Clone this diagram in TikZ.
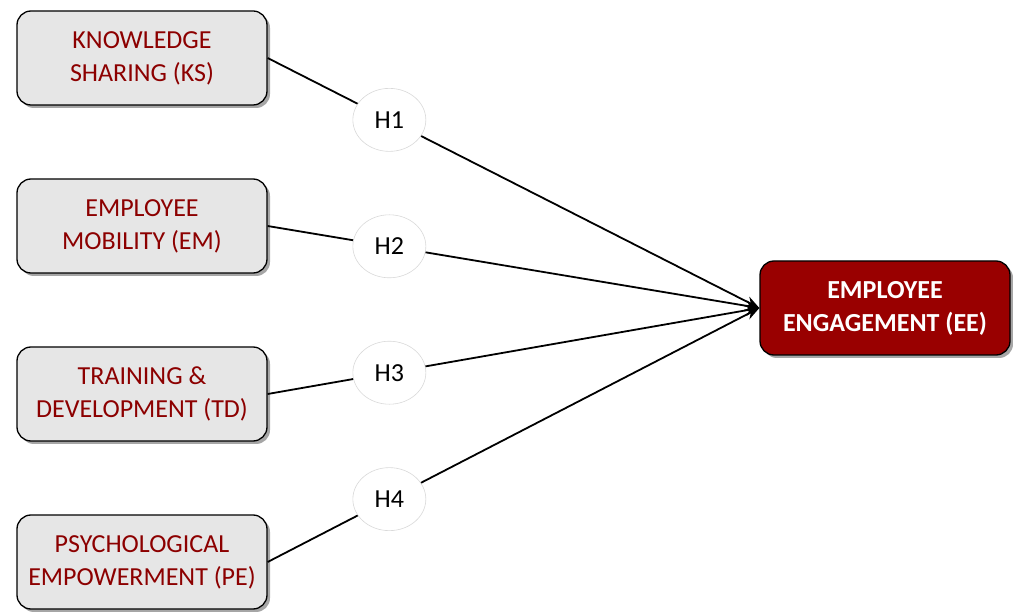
\documentclass[tikz,border=0pt]{standalone}
\usepackage{fontspec}
\setmainfont{Carlito}
\usetikzlibrary{shadows,arrows.meta,shapes.geometric}
\definecolor{boxred}{RGB}{140,0,0}
\definecolor{eefill}{RGB}{153,0,0}
\definecolor{boxgray}{RGB}{230,230,230}
\tikzset{
  varbox/.style={draw=black, line width=1.3pt, fill=boxgray, rounded corners=14pt,
    minimum width=250pt, minimum height=94pt, align=center, text=boxred,
    font=\fontsize{26}{33}\selectfont,
    drop shadow={shadow xshift=3pt, shadow yshift=-3pt, opacity=0.35, fill=black}},
  eebox/.style={varbox, fill=eefill, text=white, font=\fontsize{26}{33}\selectfont\bfseries},
  hyp/.style={ellipse, draw=black!15, line width=0.6pt, fill=white, minimum width=73pt,
    minimum height=63pt, inner sep=0pt, font=\fontsize{26}{30}\selectfont},
  link/.style={line width=1.8pt, -{Stealth[length=14pt,width=11pt]}}
}
\begin{document}
\begin{tikzpicture}[x=1pt,y=-1pt]
\useasboundingbox (0,0) rectangle (1013,612);
\node[varbox] (ks) at (142,58) {KNOWLEDGE\\SHARING (KS)};
\node[varbox] (em) at (142,226) {EMPLOYEE\\MOBILITY (EM)};
\node[varbox] (td) at (142,394) {TRAINING \&\\DEVELOPMENT (TD)};
\node[varbox] (pe) at (142,562) {PSYCHOLOGICAL\\EMPOWERMENT (PE)};
\node[eebox] (ee) at (885,308) {EMPLOYEE\\ENGAGEMENT (EE)};
\draw[link] (ks.east) -- node[hyp, pos=0.2475] (h1) {H1} (ee.west);
\draw[link] (em.east) -- node[hyp, pos=0.2475] (h2) {H2} (ee.west);
\draw[link] (td.east) -- node[hyp, pos=0.2475] (h3) {H3} (ee.west);
\draw[link] (pe.east) -- node[hyp, pos=0.2475] (h4) {H4} (ee.west);
\end{tikzpicture}
\end{document}
